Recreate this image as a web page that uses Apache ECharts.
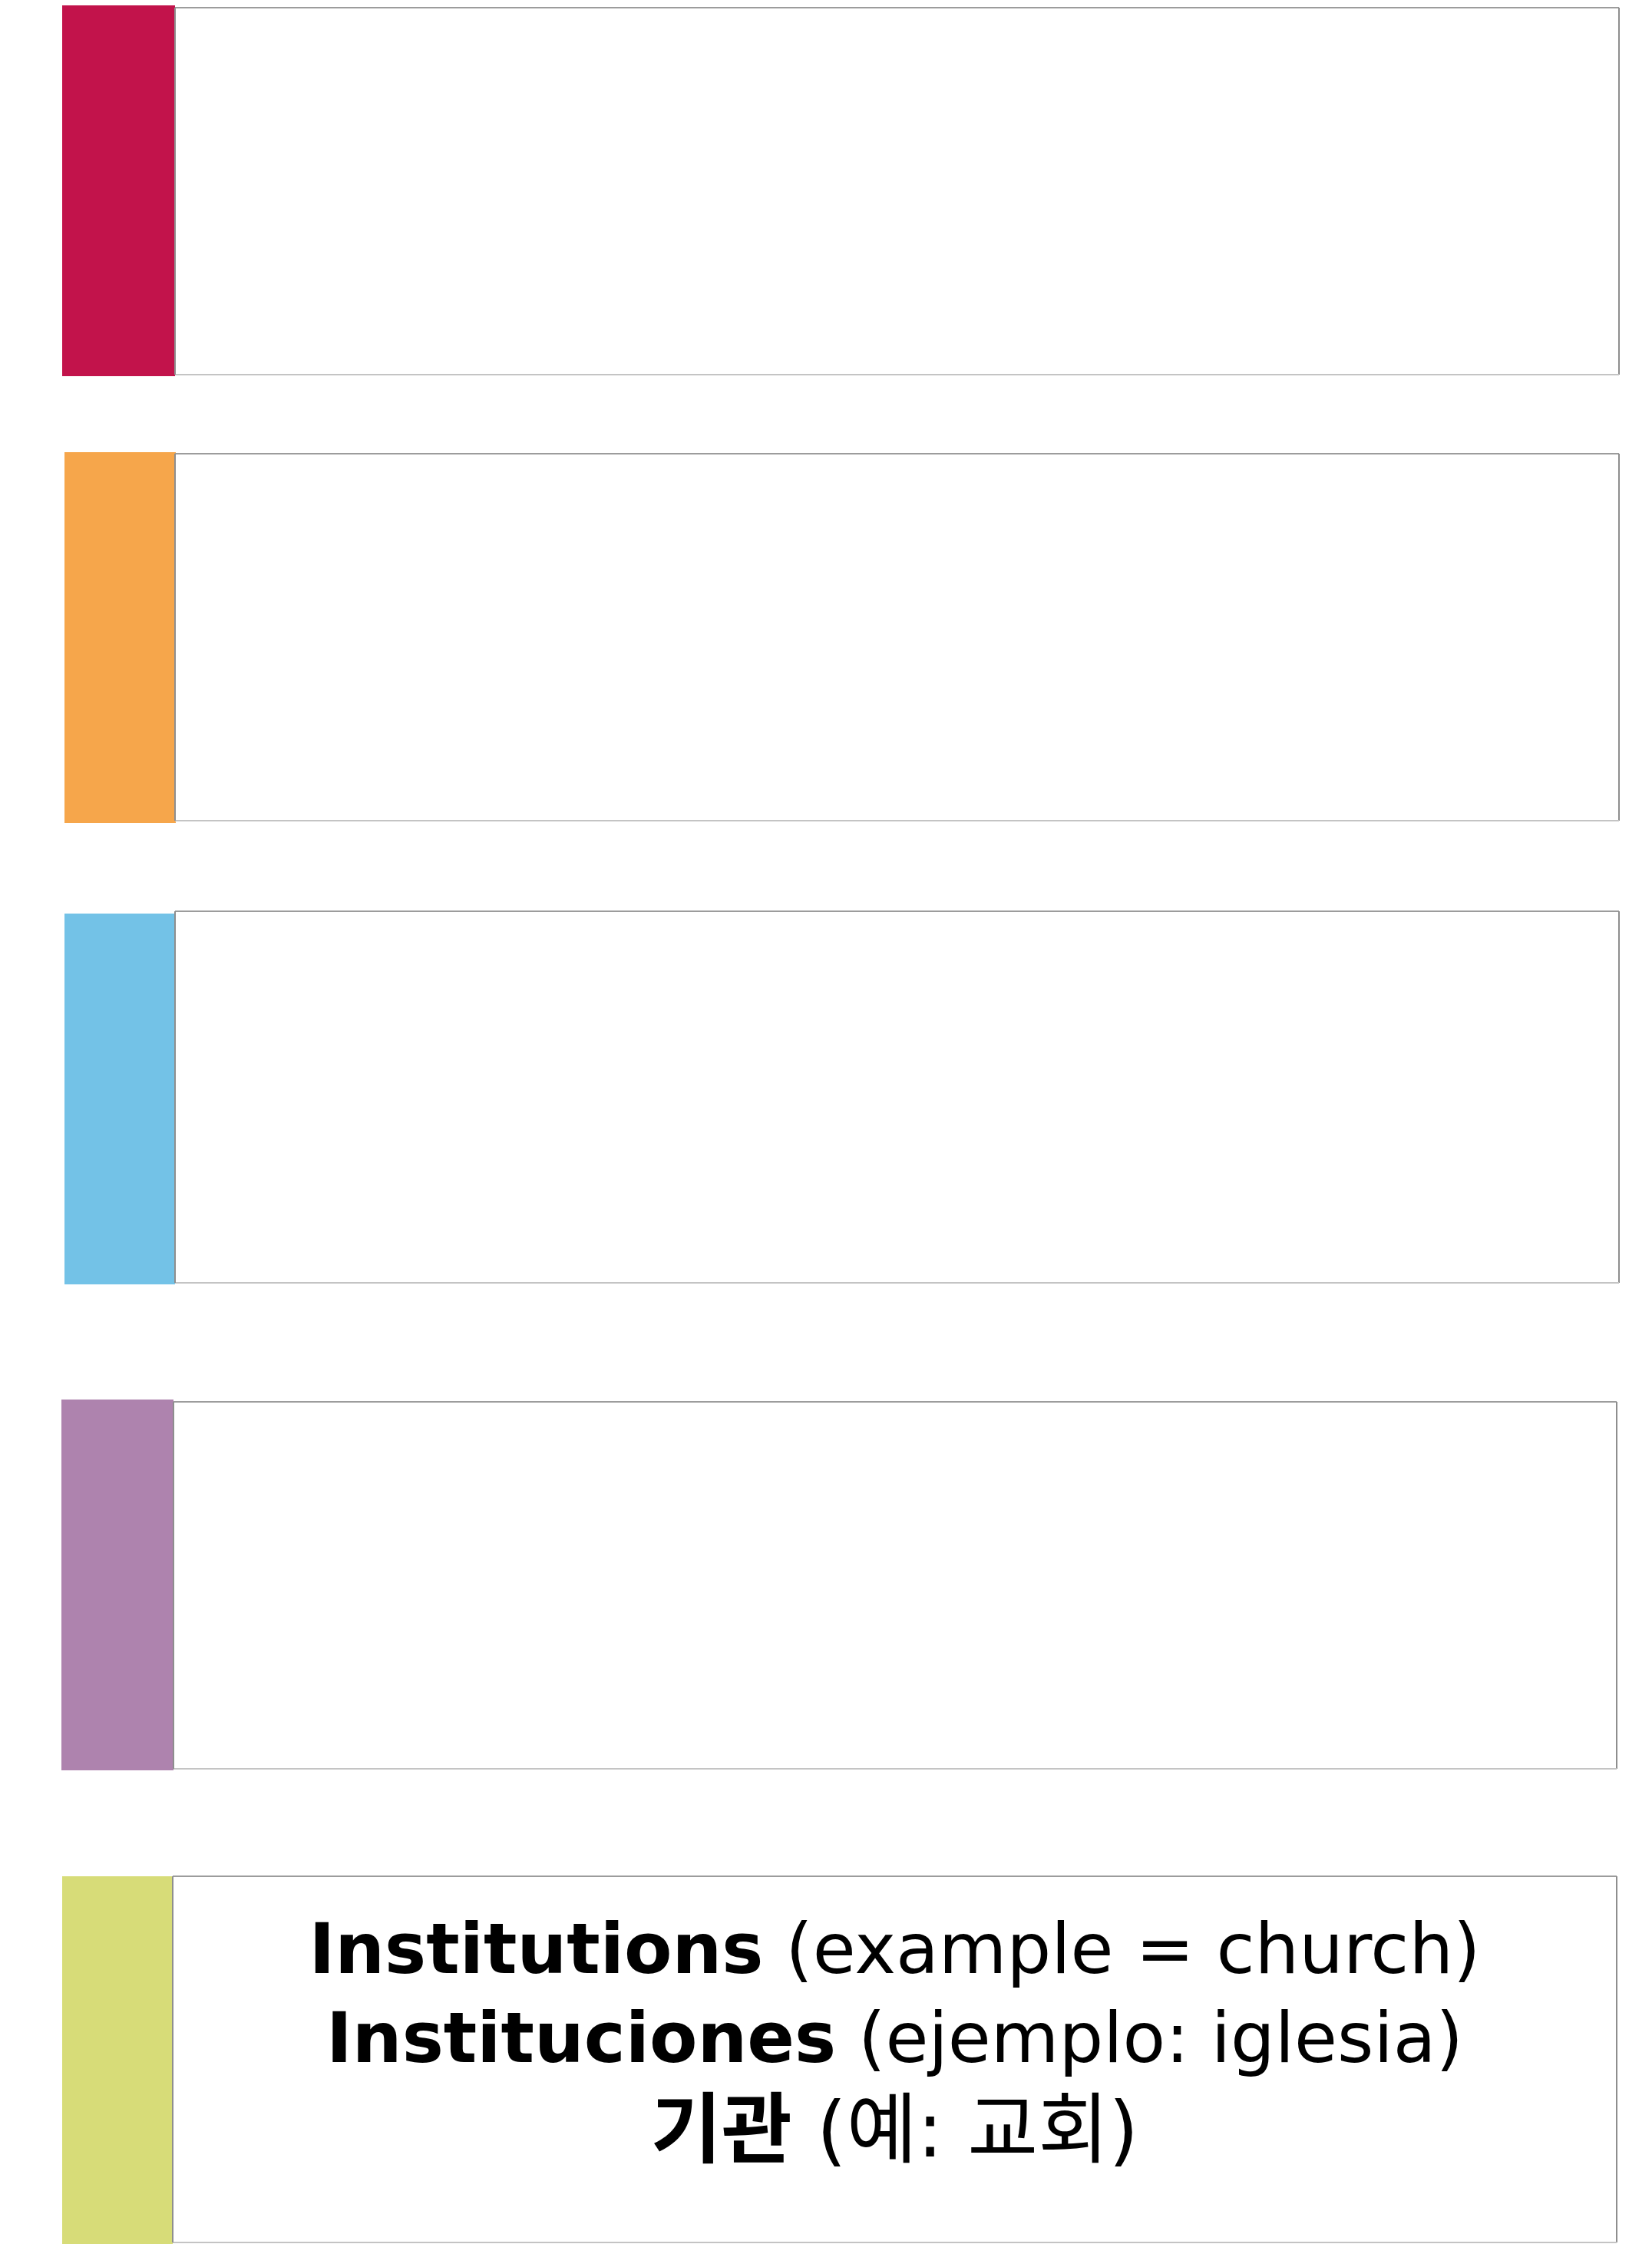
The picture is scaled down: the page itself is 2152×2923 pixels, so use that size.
<!DOCTYPE html>
<html><head><meta charset="utf-8">
<script src="https://cdn.jsdelivr.net/npm/echarts@6/dist/echarts.min.js"></script>
<style>html,body{margin:0;padding:0;background:#fff;} #c{width:2152px;height:2923px;}</style>
</head><body><div id="c"></div>
<script>
// Row layout expressed in axis units (x: 0-2152, y: 0-2923 top-down)
const stripColors = ['#C2134B', '#F6A64B', '#73C2E7', '#AE83AE', '#D7DC78'];
const stripLeft   = [81, 84, 84, 80, 81];
const stripRight  = [228, 229, 228, 226, 225];
const stripTop    = [7, 589, 1190, 1823, 2444];
const stripBottom = [490, 1072, 1673, 2306, 2923];
const boxLeft     = [228, 228, 228, 226, 225];
const boxRight    = [2109, 2109, 2109, 2106, 2106];
const boxTop      = [10, 591, 1187, 1826, 2444];
const boxBottom   = [488, 1069, 1671, 2304, 2921];
// Text of the last box
const boldParts    = ['Institutions', 'Instituciones', '기관'];
const regularParts = [' (example = church)', ' (ejemplo: iglesia)', ' (예: 교회)'];
const textRow = 4;

const latin = '"DejaVu Sans", sans-serif';
const korean = '"DejaVu Sans", "Noto Sans CJK KR", sans-serif';

const chart = echarts.init(document.getElementById('c'), null, {renderer: 'canvas'});

function renderItem(params, api) {
  const i = api.value(0);
  const s0 = api.coord([stripLeft[i], stripTop[i]]);
  const s1 = api.coord([stripRight[i], stripBottom[i]]);
  const b0 = api.coord([boxLeft[i], boxTop[i]]);
  const b1 = api.coord([boxRight[i], boxBottom[i]]);
  const children = [
    {type: 'rect', shape: {x: b0[0], y: b0[1], width: b1[0] - b0[0], height: b1[1] - b0[1]}, style: {fill: '#fff'}},
    {type: 'rect', shape: {x: s0[0], y: s0[1], width: s1[0] - s0[0], height: s1[1] - s0[1]}, style: {fill: stripColors[i]}},
    {type: 'line', shape: {x1: b0[0], y1: b0[1], x2: b1[0], y2: b0[1]}, style: {stroke: '#9c9c9c', lineWidth: 2}},
    {type: 'line', shape: {x1: b1[0], y1: b0[1], x2: b1[0], y2: b1[1]}, style: {stroke: '#8e8e8e', lineWidth: 2}},
    {type: 'line', shape: {x1: b0[0], y1: b1[1], x2: b1[0], y2: b1[1]}, style: {stroke: '#c4c4c4', lineWidth: 2}},
    {type: 'line', shape: {x1: b0[0], y1: b0[1], x2: b0[0], y2: b1[1]}, style: {stroke: '#8e8e8e', lineWidth: 2}}
  ];
  if (i === textRow) {
    const cx = (b0[0] + b1[0]) / 2;
    const ys = [b0[1] + 102, b0[1] + 218, b0[1] + 339];
    for (let k = 0; k < boldParts.length; k++) {
      const fam = k === 2 ? korean : latin;
      const fs = k === 2 ? 100 : 91;
      children.push({
        type: 'text',
        style: {
          x: cx, y: ys[k], align: 'center', verticalAlign: 'middle',
          text: '{b|' + boldParts[k] + '}{r|' + regularParts[k] + '}',
          rich: {
            b: {fontFamily: fam, fontWeight: 'bold', fontSize: fs, fill: '#000'},
            r: {fontFamily: fam, fontWeight: 'normal', fontSize: fs, fill: '#000'}
          }
        }
      });
    }
  }
  return {type: 'group', children};
}

chart.setOption({
  animation: false,
  backgroundColor: '#fff',
  grid: {left: 0, right: 0, top: 0, bottom: 0},
  xAxis: {type: 'value', min: 0, max: 2152, show: false},
  yAxis: {type: 'value', min: 0, max: 2923, inverse: true, show: false},
  series: [{
    type: 'custom',
    clip: false,
    renderItem,
    data: stripColors.map((c, i) => [i])
  }]
});
</script></body></html>
